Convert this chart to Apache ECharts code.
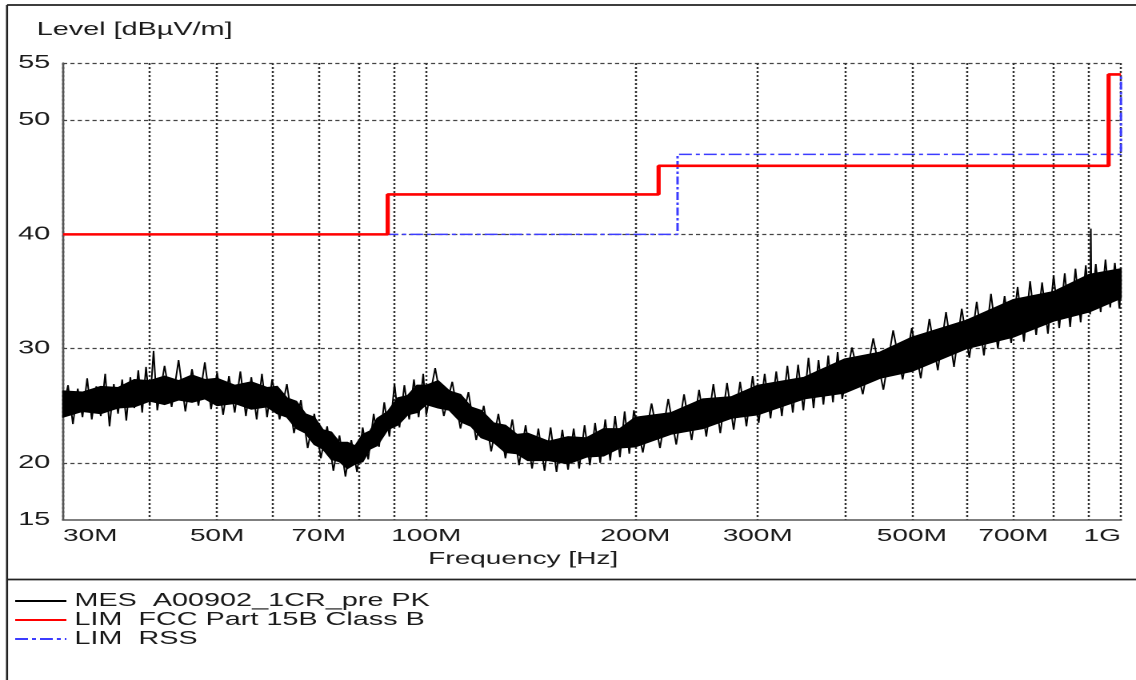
<!DOCTYPE html>
<html><head><meta charset="utf-8">
<script src="https://cdn.jsdelivr.net/npm/echarts@6/dist/echarts.min.js"></script>
<style>
html,body{margin:0;padding:0;background:#fff;overflow:hidden;}
#wrap{width:1136px;height:680px;overflow:hidden;position:relative;background:#fff;}
#chart{width:710px;height:680px;transform:scaleX(1.6);transform-origin:0 0;}
</style></head><body>
<div id="wrap"><div id="chart"></div></div>
<script>
// Frequency axis (MHz): grid lines and labelled ticks
const freqGrid = [30,40,50,60,70,80,90,100,200,300,400,500,600,700,800,900,1000];
const freqLabels = [30,50,70,100,200,300,500,700,1000];
// Level axis (dBµV/m)
const levelLabels = [15,20,30,40,50,55];
const levelGrid = [20,30,40,50,55];

// Limit lines
const fccFreq  = [30,88,88,216,216,960,960,1000];
const fccLevel = [40,40,43.5,43.5,46,46,54,54];
const rssFreq  = [30,230,230,1000,1000];
const rssLevel = [40,40,47,47,54];

// Measured trace: dense core of the peak trace (low/high edges)
const coreFreq = [30,32,34,36,38,40,42,44,46,48,50,53,56,59,61,63,65,67,69,71,73,75,77,79,81,83,85,88,91,94,97,100,104,108,112,116,120,125,130,135,140,150,160,170,180,190,200,225,250,275,300,350,400,450,500,600,700,800,900,1000];
const coreLow  = [24.0,24.5,24.3,24.8,24.9,25.4,25.1,25.5,25.3,25.6,25.0,25.2,24.7,24.9,24.3,24.0,23.0,22.6,21.6,21.2,20.3,20.1,19.5,19.9,20.1,21.2,21.5,22.9,23.3,24.2,24.4,25.1,24.8,24.6,23.6,23.2,22.2,21.8,20.9,20.8,20.2,20.2,19.9,20.5,20.6,21.3,21.4,22.5,23.0,23.9,24.2,25.6,26.1,27.4,28.0,30.0,31.0,32.4,33.2,34.4];
const coreHigh = [26.3,26.2,26.7,26.6,27.3,27.2,27.6,27.2,27.7,27.3,27.4,26.8,27.1,26.6,26.7,25.7,25.4,24.3,24.0,22.9,22.7,21.8,21.8,21.5,22.5,22.8,23.9,24.5,25.7,25.9,26.8,26.8,27.2,26.3,26.0,24.9,24.6,23.5,23.3,22.5,22.6,21.9,22.3,22.2,23.0,23.0,24.0,24.4,25.6,25.8,26.8,27.5,29.1,29.7,31.0,32.5,34.3,35.0,36.5,37.0];

// Measured trace: peak readings (MHz, dBµV/m)
const mesFreq = [30,30.5,31,31.5,32,32.5,33,33.5,34,34.5,35,35.5,36,36.5,37,37.5,38,38.5,39,39.5,40,40.5,41,
  42,43,44,45,46,47,48,49,50,51,52,53,54,55,56,57,58,59,60,
  61.5,63,64.5,66,67.5,69,70.5,72,73.5,75,76.5,78,79.5,81,82.5,84,85.5,87,88.5,90,91.5,93,94.5,96,97.5,99,
  100,103,106,109,112,115,118,121,124,127,130,133,136,139,142,145,148,151,154,157,160,163,166,169,172,175,178,181,184,187,190,193,196,199,
  205,211,217,223,229,235,241,247,253,259,265,271,277,283,289,295,301,307,313,319,325,331,337,343,349,355,361,367,373,379,385,391,397,
  410,425,440,455,470,485,500,515,530,545,560,575,590,605,620,635,650,665,680,695,710,725,740,755,770,785,800,815,830,845,860,875,890,903,905,907,920,935,950,965,980,995,1000];
const mesLevel = [24.6,26.8,23.4,26.5,24.0,27.4,23.8,26.7,24.1,27.8,23.2,26.9,24.3,27.3,23.7,27.5,24.8,28.1,24.4,28.4,25.0,29.8,24.6,
  28.5,24.9,29.0,24.5,28.2,25.0,28.8,24.7,27.9,24.2,27.6,24.4,28.0,24.1,27.5,23.8,27.8,24.0,27.3,
  23.8,26.9,22.6,25.5,21.3,24.3,20.4,23.2,19.3,22.4,18.8,22.0,19.2,23.1,20.3,24.3,21.4,25.3,22.3,26.9,23.1,26.8,23.8,27.3,24.0,27.8,
  24.2,28.3,24.1,27.1,23.0,26.2,22.0,25.0,21.0,24.3,20.4,23.8,19.8,23.3,19.5,23.0,19.3,23.1,19.2,22.9,19.4,23.0,19.5,23.3,19.8,23.5,20.0,23.8,20.2,24.1,20.5,24.5,20.8,24.6,
  20.9,25.2,21.3,25.6,21.6,26.0,22.0,26.4,22.3,26.9,22.6,27.0,22.9,27.1,23.2,27.6,23.5,27.8,23.9,28.0,24.1,28.5,24.4,28.6,24.6,29.2,24.8,29.0,25.1,29.4,25.3,29.7,25.6,
  30.1,26.0,30.9,26.4,31.6,27.3,31.8,27.4,32.6,28.1,33.2,28.4,33.5,29.2,34.1,29.4,34.8,30.0,34.6,30.5,35.4,30.6,35.9,31.2,35.8,31.3,36.4,31.8,36.6,31.9,37.0,32.3,37.3,33.0,40.5,33.4,37.4,33.2,37.8,33.6,37.5,33.5,36.0];

const seriesNames = ['MES  A00902_1CR_pre PK', 'LIM  FCC Part 15B Class B', 'LIM  RSS'];

const FONT = "'Liberation Sans', Arial, sans-serif";
const TXT = '#1a1a1a';
const pairs = (xs, ys) => xs.map((x, i) => [x, ys[i]]);
const fmtFreq = v => { const r = Math.round(v); return r >= 1000 ? (r / 1000) + 'G' : r + 'M'; };

const chart = echarts.init(document.getElementById('chart'), null, {renderer: 'canvas', devicePixelRatio: 2});
chart.setOption({
  animation: false,
  backgroundColor: '#ffffff',
  title: {text: 'Level [dBµV/m]', left: 23, top: 21, padding: 0,
    textStyle: {fontFamily: FONT, fontSize: 18, fontWeight: 'normal', color: TXT}},
  grid: {left: 39.4, right: 9.4, top: 63, bottom: 160, containLabel: false},
  legend: {
    orient: 'vertical', left: 8.5, top: 592, padding: 0, itemWidth: 32, itemHeight: 12, itemGap: 1,
    selectedMode: false, data: seriesNames,
    itemStyle: {opacity: 0},
    textStyle: {fontFamily: FONT, fontSize: 18, color: TXT, lineHeight: 18}
  },
  xAxis: {
    type: 'log', logBase: 10, min: 30, max: 1000,
    name: 'Frequency [Hz]', nameLocation: 'middle', nameGap: 30,
    nameTextStyle: {fontFamily: FONT, fontSize: 17.5, color: TXT, padding: [0, 86, 0, 0]},
    axisLine: {show: true, onZero: false, lineStyle: {color: '#555', width: 1.6}},
    axisTick: {show: false, customValues: freqGrid},
    axisLabel: {customValues: freqLabels, formatter: fmtFreq, margin: 7, fontFamily: FONT, fontSize: 17.5, color: TXT,
      alignMinLabel: 'left', alignMaxLabel: 'right', showMinLabel: true, showMaxLabel: true, hideOverlap: false},
    splitLine: {show: true, lineStyle: {color: '#333', width: 1.25, type: [2, 2]}},
    minorTick: {show: false}, minorSplitLine: {show: false}
  },
  yAxis: {
    type: 'value', min: 15, max: 55,
    axisLine: {show: true, lineStyle: {color: '#555', width: 1.3}},
    axisTick: {show: false, customValues: levelGrid},
    axisLabel: {customValues: levelLabels, margin: 8, fontFamily: FONT, fontSize: 18, color: TXT},
    splitLine: {show: true, lineStyle: {color: '#444', width: 1.3, type: [2.6, 2]}}
  },
  graphic: [
    {type: 'line', shape: {x1: 4.4, y1: 5, x2: 710, y2: 5}, style: {stroke: '#222', lineWidth: 1.8}, silent: true},
    {type: 'line', shape: {x1: 4.4, y1: 5, x2: 4.4, y2: 680}, style: {stroke: '#222', lineWidth: 1.3}, silent: true},
    {type: 'line', shape: {x1: 4.4, y1: 579.5, x2: 710, y2: 579.5}, style: {stroke: '#222', lineWidth: 1.8}, silent: true}
  ],
  series: [
    {name: seriesNames[2], type: 'line', data: pairs(rssFreq, rssLevel), symbol: 'none', z: 2,
      lineStyle: {color: '#3c3cff', width: 1.5, type: [8, 2.5, 2.5, 2.5]}, itemStyle: {color: '#3c3cff'}},
    {name: seriesNames[1], type: 'line', data: pairs(fccFreq, fccLevel), symbol: 'none', z: 3,
      lineStyle: {color: '#ff0000', width: 2.6}, itemStyle: {color: '#ff0000'}},
    {name: 'core', type: 'custom', z: 4, silent: true, data: [[coreFreq[0], coreLow[0]]],
      renderItem: (params, api) => {
        const pts = [];
        for (let i = 0; i < coreFreq.length; i++) pts.push(api.coord([coreFreq[i], coreHigh[i]]));
        for (let i = coreFreq.length - 1; i >= 0; i--) pts.push(api.coord([coreFreq[i], coreLow[i]]));
        return {type: 'polygon', shape: {points: pts}, style: {fill: '#000', stroke: '#000', lineWidth: 1}};
      }},
    {name: seriesNames[0], type: 'line', data: pairs(mesFreq, mesLevel), symbol: 'none', z: 5,
      lineStyle: {color: '#000', width: 1}, itemStyle: {color: '#000'}}
  ]
});
</script>
</body></html>
